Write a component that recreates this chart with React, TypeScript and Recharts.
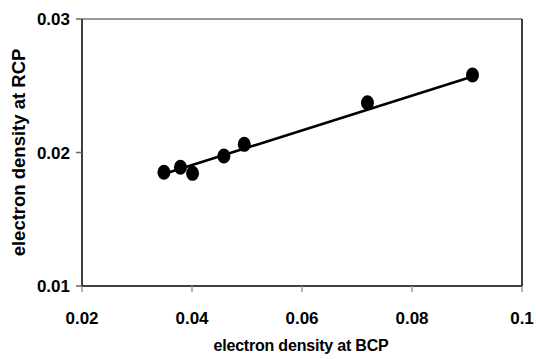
import React from 'react';
import { ScatterChart, Scatter, XAxis, YAxis, ReferenceLine } from 'recharts';

const bcpValues = [0.0349, 0.0379, 0.0401, 0.0458, 0.0495, 0.0719, 0.0910];
const rcpValues = [0.01852, 0.01889, 0.01844, 0.01974, 0.02061, 0.02373, 0.02581];
const trendX = [0.035, 0.091];
const trendY = [0.0184, 0.0257];
const xTicks = [0.02, 0.04, 0.06, 0.08, 0.1];
const yTicks = [0.01, 0.02, 0.03];
const xTitle = 'electron density at BCP';
const yTitle = 'electron density at RCP';

const points = bcpValues.map((x, i) => ({ x, y: rcpValues[i] }));
const trend = trendX.map((x, i) => ({ x, y: trendY[i] }));

const FONT = '"Liberation Sans", Arial, sans-serif';

const Dot = (props: any) => {
  const { cx, cy } = props;
  if (cx == null || cy == null) return <g />;
  return <ellipse cx={cx} cy={cy} rx={6.5} ry={7.5} fill="#000" />;
};

const NoDot = () => <g />;

const XTitle = (props: any) => {
  const vb = props.viewBox || {};
  return (
    <text x={vb.x + vb.width / 2 - 1} y={vb.y + 65} textAnchor="middle" fontFamily={FONT} fontWeight="bold" fontSize={16} fill="#000" letterSpacing={-0.2}>
      {xTitle}
    </text>
  );
};

const YTitle = (props: any) => {
  const vb = props.viewBox || {};
  const cy = vb.y + vb.height / 2;
  return (
    <text x={25} y={cy} transform={`rotate(-90, 25, ${cy})`} textAnchor="middle" fontFamily={FONT} fontWeight="bold" fontSize={18.5} fill="#000">
      {yTitle}
    </text>
  );
};

export default function App() {
  return (
    <div style={{ position: 'absolute', left: 0, top: 0, background: '#fff' }}>
      <ScatterChart width={536} height={359} margin={{ top: 19, right: 14, bottom: 0, left: 0 }}>
        <XAxis
          type="number"
          dataKey="x"
          domain={[0.02, 0.1]}
          ticks={xTicks}
          height={73}
          axisLine={{ stroke: '#000', strokeWidth: 1.5 }}
          tickLine={{ stroke: '#999', strokeWidth: 1.5 }}
          tickSize={6}
          tickMargin={20}
          tick={{ fill: '#000', fontFamily: FONT, fontWeight: 'bold', fontSize: 17 }}
          label={<XTitle />}
          allowDataOverflow
        />
        <YAxis
          type="number"
          dataKey="y"
          domain={[0.01, 0.03]}
          ticks={yTicks}
          width={82}
          axisLine={{ stroke: '#000', strokeWidth: 1.5 }}
          tickLine={{ stroke: '#666', strokeWidth: 1.5 }}
          tickSize={6}
          tickMargin={6}
          tick={{ fill: '#000', fontFamily: FONT, fontWeight: 'bold', fontSize: 17 }}
          label={<YTitle />}
          allowDataOverflow
        />
        <ReferenceLine y={0.03} stroke="#777" strokeWidth={1.5} />
        <ReferenceLine x={0.1} stroke="#000" strokeWidth={1.5} />
        <Scatter data={trend} line={{ stroke: '#000', strokeWidth: 2.6 }} shape={<NoDot />} isAnimationActive={false} />
        <Scatter data={points} shape={<Dot />} isAnimationActive={false} />
      </ScatterChart>
    </div>
  );
}
